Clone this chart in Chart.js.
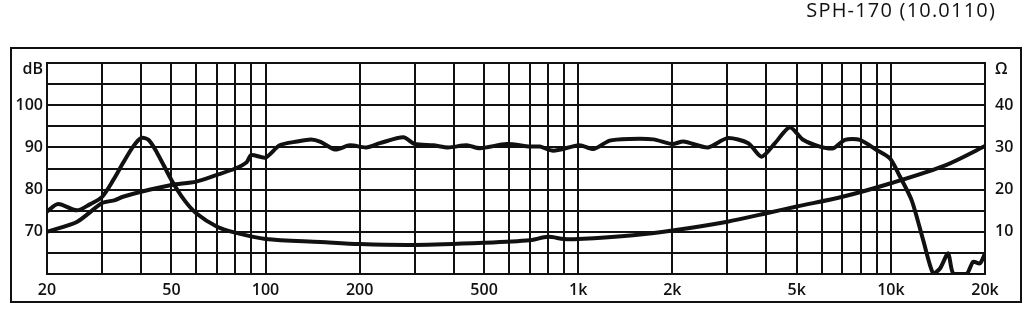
<!DOCTYPE html>
<html>
<head>
<meta charset="utf-8">
<script src="https://cdn.jsdelivr.net/npm/chart.js@4.4.1/dist/chart.umd.min.js"></script>
<style>
  html, body { margin: 0; background: #fff; }
</style>
</head>
<body>
<canvas id="chart" width="1024" height="310"></canvas>
<script>
// Titel
const chartTitle = 'SPH-170 (10.0110)';

const splFreq = [20, 25, 30, 33, 35, 40, 50, 60, 70, 80, 87, 90, 100, 111, 126, 140, 150, 167, 186, 210, 232, 276, 300, 344, 384, 440, 485, 590, 700, 754, 832, 1010, 1120, 1260, 1460, 1740, 2000, 2170, 2600, 3000, 3500, 3860, 4260, 4750, 5240, 5930, 6540, 7130, 7960, 9000, 9930, 10690, 11650, 12690, 13660, 14360, 15250, 15830, 17460, 18330, 19260, 20000];
const splDb   = [70, 72.4, 76.8, 77.5, 78.3, 79.5, 81.1, 81.9, 83.5, 85, 86.5, 88.2, 87.6, 90.5, 91.4, 91.9, 91.3, 89.5, 90.5, 90, 91, 92.4, 90.8, 90.5, 90, 90.5, 89.8, 90.8, 90.2, 90.2, 89.2, 90.5, 89.6, 91.6, 92, 91.9, 90.8, 91.4, 90, 92.2, 91, 87.8, 91, 94.8, 91.8, 90.2, 89.8, 91.8, 91.8, 89.4, 87.4, 83.1, 77.5, 68, 60.1, 61.3, 64.9, 60.1, 60, 62.9, 62.5, 64.9];

const impFreq = [20, 21.7, 24.9, 27.4, 30, 32.6, 35, 37.8, 40, 42.2, 45, 50, 55, 60, 70, 80, 100, 150, 200, 300, 500, 700, 800, 900, 1000, 1500, 2000, 3000, 4000, 5000, 7000, 10000, 15000, 20000];
const impOhm  = [14.8, 16.6, 15.1, 16.5, 18.3, 22.3, 26.3, 30.3, 32.2, 31.8, 28.7, 22.3, 17.5, 14.4, 11.2, 9.8, 8.3, 7.6, 7.1, 6.9, 7.4, 8, 8.8, 8.3, 8.3, 9.2, 10.3, 12.4, 14.4, 16, 18.3, 21.5, 25.8, 30.3];

// Achsen
const gridFreqs = [20, 30, 40, 50, 60, 70, 80, 90, 100, 200, 300, 400, 500, 600, 700, 800, 900, 1000, 2000, 3000, 4000, 5000, 6000, 7000, 8000, 9000, 10000, 20000];
const xTickValues = [20, 50, 100, 200, 500, 1000, 2000, 5000, 10000, 20000];
const xTickLabels = ['20', '50', '100', '200', '500', '1k', '2k', '5k', '10k', '20k'];
const dbTicks = { 70: '70', 80: '80', 90: '90', 100: '100', 110: ['', 'dB'] };
const ohmTicks = { 10: '10', 20: '20', 30: '30', 40: '40', 50: ['', 'Ω'] };

const FONT = "'Open Sans', 'Noto Sans', sans-serif";
const tickFont = { family: FONT, size: 16, weight: '600' };
// Einheit oben etwas nach unten schieben (zweizeiliges Label)
const unitFont = ctx => (ctx.tick && (ctx.tick.value === 110 || ctx.tick.value === 50))
    ? { family: FONT, size: 16, weight: '600', lineHeight: 0.85 }
    : tickFont;

const framePlugin = {
    id: 'frame',
    beforeDraw(chart) {
        const c = chart.ctx;
        c.save();
        c.fillStyle = '#fff';
        c.fillRect(0, 0, chart.width, chart.height);
        c.strokeStyle = '#111';
        c.lineWidth = 2;
        c.strokeRect(11, 48, 1010, 254);
        c.fillStyle = '#111';
        c.font = '20px ' + FONT;
        c.letterSpacing = '1.2px';
        c.textAlign = 'right';
        c.textBaseline = 'middle';
        c.fillText(chartTitle, 996, 11);
        c.restore();
    }
};

const toPoints = (xs, ys) => xs.map((x, i) => ({ x: x, y: ys[i] }));

new Chart(document.getElementById('chart'), {
    type: 'line',
    data: {
        datasets: [
            {
                label: 'SPL',
                data: toPoints(splFreq, splDb),
                yAxisID: 'y',
                borderColor: '#111',
                borderWidth: 4,
                pointRadius: 0,
                tension: 0.25,
                fill: false
            },
            {
                label: 'Impedanz',
                data: toPoints(impFreq, impOhm),
                yAxisID: 'y2',
                borderColor: '#111',
                borderWidth: 4,
                pointRadius: 0,
                tension: 0.3,
                fill: false
            }
        ]
    },
    options: {
        responsive: false,
        animation: false,
        layout: { padding: { top: 63, left: 0, right: 0, bottom: 0 } },
        plugins: {
            legend: { display: false },
            tooltip: { enabled: false }
        },
        scales: {
            x: {
                type: 'logarithmic',
                min: 20,
                max: 20000,
                afterBuildTicks: s => { s.ticks = gridFreqs.map(v => ({ value: v })); },
                afterFit: s => { s.height = 36; },
                grid: { color: '#111', lineWidth: 2, drawTicks: false },
                border: { color: '#111', width: 2 },
                ticks: {
                    autoSkip: false,
                    maxRotation: 0,
                    padding: 7,
                    color: '#111',
                    font: tickFont,
                    callback: v => {
                        const i = xTickValues.indexOf(v);
                        return i >= 0 ? xTickLabels[i] : '';
                    }
                }
            },
            y: {
                position: 'left',
                min: 60,
                max: 110,
                afterFit: s => { s.width = 47; },
                grid: { color: '#111', lineWidth: 2, drawTicks: false },
                border: { color: '#111', width: 2 },
                ticks: {
                    stepSize: 5,
                    autoSkip: false,
                    padding: 4,
                    color: '#111',
                    font: unitFont,
                    callback: v => dbTicks[v] || ''
                }
            },
            y2: {
                position: 'right',
                min: 0,
                max: 50,
                afterFit: s => { s.width = 39; },
                grid: { drawOnChartArea: false, drawTicks: false },
                border: { color: '#111', width: 2 },
                ticks: {
                    stepSize: 5,
                    autoSkip: false,
                    padding: 10,
                    color: '#111',
                    font: unitFont,
                    callback: v => ohmTicks[v] || ''
                }
            }
        }
    },
    plugins: [framePlugin]
});
</script>
</body>
</html>
